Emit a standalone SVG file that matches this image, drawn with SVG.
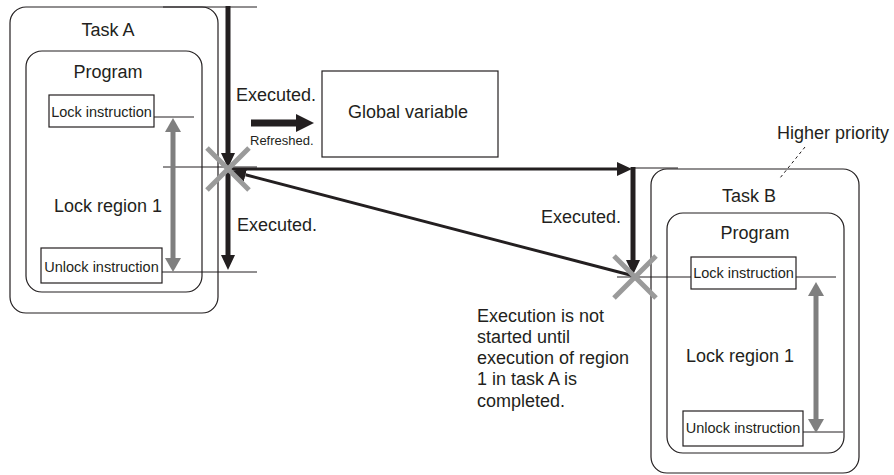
<svg xmlns="http://www.w3.org/2000/svg" width="894" height="475" viewBox="0 0 894 475">
<style>
text{font-family:"Liberation Sans",Arial,sans-serif;fill:#231f20}
.lg{font-size:18px}
.sm{font-size:14.5px}
.xs{font-size:13px}
.mid{text-anchor:middle}
.box{fill:#fff;stroke:#231f20;stroke-width:1.2}
.rbox{fill:none;stroke:#231f20;stroke-width:1.2}
.thin{stroke:#231f20;stroke-width:1;fill:none}
.blk{stroke:#231f20;fill:none}
.gray{stroke:#7f7f7f;stroke-width:5;fill:none}
.xm{stroke:#9a9a9a;stroke-width:5;fill:none}
</style>
<defs>
<marker id="ah" markerUnits="userSpaceOnUse" markerWidth="15" markerHeight="14" refX="0" refY="7" orient="auto"><path d="M0,0 L15,7 L0,14 z" fill="#231f20"/></marker>
<marker id="ahb" markerUnits="userSpaceOnUse" markerWidth="18" markerHeight="18" refX="0" refY="9" orient="auto"><path d="M0,0 L18,9 L0,18 z" fill="#231f20"/></marker>
<marker id="gh" markerUnits="userSpaceOnUse" markerWidth="14" markerHeight="16" refX="0" refY="8" orient="auto-start-reverse"><path d="M0,0 L14,8 L0,16 z" fill="#7f7f7f"/></marker>
</defs>

<g id="taskA">
<rect class="rbox" x="10" y="7" width="208" height="306" rx="16"/>
<text class="lg mid" x="108" y="36">Task A</text>
<rect class="rbox" x="26" y="51" width="176" height="241" rx="16"/>
<text class="lg mid" x="108" y="78">Program</text>
<g id="lockA">
<rect class="box" x="49" y="95" width="105" height="32"/>
<text class="sm mid" x="101.5" y="116.5">Lock instruction</text>
</g>
<g id="unlockA">
<rect class="box" x="41" y="248" width="121" height="35"/>
<text class="sm mid" x="101.5" y="272">Unlock instruction</text>
</g>
<text class="lg mid" x="108" y="212">Lock region 1</text>
</g>

<g id="global">
<rect class="box" x="322" y="71" width="176" height="86"/>
<text class="lg mid" x="408" y="118">Global variable</text>
</g>

<g id="taskB">
<rect class="rbox" x="651" y="169" width="208" height="304" rx="16"/>
<text class="lg mid" x="749" y="202">Task B</text>
<rect class="rbox" x="667" y="213" width="177" height="240" rx="16"/>
<text class="lg mid" x="755" y="239">Program</text>
<g id="lockB">
<rect class="box" x="691" y="257" width="105" height="32"/>
<text class="sm mid" x="743.5" y="278">Lock instruction</text>
</g>
<g id="unlockB">
<rect class="box" x="683" y="411" width="120" height="35"/>
<text class="sm mid" x="743" y="433">Unlock instruction</text>
</g>
<text class="lg mid" x="740" y="362">Lock region 1</text>
</g>

<g id="labels">
<text class="lg" x="236" y="101">Executed.</text>
<text class="xs" x="250" y="145">Refreshed.</text>
<text class="lg" x="237" y="231">Executed.</text>
<text class="lg" x="541" y="223">Executed.</text>
<text class="lg" x="777" y="139">Higher priority</text>
<text class="lg" x="477" y="322">Execution is not</text>
<text class="lg" x="477" y="343">started until</text>
<text class="lg" x="477" y="364">execution of region</text>
<text class="lg" x="477" y="385">1 in task A is</text>
<text class="lg" x="477" y="407">completed.</text>
</g>

<g id="connectors">
<path class="thin" d="M163,7 H257 M154,117 H194 M163,167 H257 M162,272 H257"/>
<path class="thin" d="M633,168 H678 M617,277 H691 M796,277 H836 M803,432 H843"/>
<path class="thin" d="M805,147 L780,178" stroke-dasharray="3 3"/>
<line class="gray" x1="173" y1="132" x2="173" y2="258" marker-start="url(#gh)" marker-end="url(#gh)"/>
<line class="gray" x1="816" y1="296" x2="816" y2="419" marker-start="url(#gh)" marker-end="url(#gh)"/>
<line class="blk" stroke-width="5" x1="228" y1="6" x2="228" y2="153" marker-end="url(#ah)"/>
<line class="blk" stroke-width="5" x1="228" y1="169" x2="228" y2="255" marker-end="url(#ah)"/>
<line class="blk" stroke-width="7" x1="251" y1="123" x2="296" y2="123" marker-end="url(#ahb)"/>
<line class="blk" stroke-width="3" x1="228" y1="169" x2="617" y2="169" marker-end="url(#ah)"/>
<line class="blk" stroke-width="5" x1="633" y1="167" x2="633" y2="260" marker-end="url(#ah)"/>
<line class="blk" stroke-width="3" x1="634" y1="276" x2="245.5" y2="174.8" marker-end="url(#ah)"/>
<path class="xm" d="M207,148 L249,190 M249,148 L207,190"/>
<path class="xm" d="M614,256 L656,298 M656,256 L614,298"/>
</g>
</svg>
